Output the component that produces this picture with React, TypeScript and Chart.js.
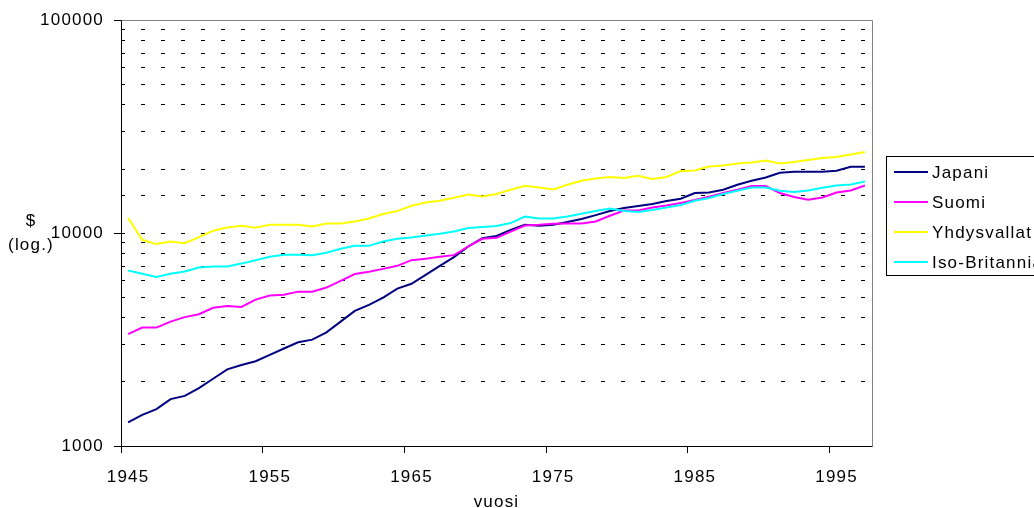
import React, { useEffect, useRef } from "react";
import { Chart, registerables } from "chart.js";

Chart.register(...registerables);

const years = [
  1945, 1946, 1947, 1948, 1949, 1950, 1951, 1952, 1953, 1954,
  1955, 1956, 1957, 1958, 1959, 1960, 1961, 1962, 1963, 1964,
  1965, 1966, 1967, 1968, 1969, 1970, 1971, 1972, 1973, 1974,
  1975, 1976, 1977, 1978, 1979, 1980, 1981, 1982, 1983, 1984,
  1985, 1986, 1987, 1988, 1989, 1990, 1991, 1992, 1993, 1994,
  1995, 1996, 1997,
];

const japani = [
  1290, 1400, 1490, 1660, 1720, 1870, 2070, 2290, 2400, 2500,
  2680, 2870, 3070, 3160, 3420, 3840, 4310, 4600, 4980, 5490,
  5780, 6370, 7020, 7710, 8650, 9470, 9700, 10360, 10940, 10820,
  10940, 11270, 11640, 12150, 12690, 13110, 13400, 13690, 14140, 14500,
  15420, 15520, 15980, 16870, 17620, 18250, 19210, 19420, 19420, 19420,
  19630, 20500, 20500,
];

const suomi = [
  3350, 3600, 3600, 3840, 4030, 4160, 4460, 4550, 4500, 4870,
  5090, 5130, 5310, 5300, 5550, 5970, 6420, 6580, 6790, 7020,
  7460, 7570, 7740, 7880, 8650, 9400, 9500, 10170, 10860, 10940,
  11060, 11100, 11100, 11340, 12060, 12770, 12770, 13200, 13490, 13860,
  14290, 14820, 15420, 15980, 16630, 16630, 15420, 14770, 14340, 14700,
  15520, 15860, 16740,
];

const yhdysvallat = [
  11770, 9300, 8880, 9130, 8970, 9580, 10250, 10620, 10820, 10590,
  10940, 10940, 10940, 10740, 11100, 11100, 11340, 11710, 12290, 12690,
  13440, 13930, 14190, 14660, 15190, 14860, 15260, 15980, 16690, 16390,
  16030, 16870, 17620, 18060, 18340, 18140, 18600, 17940, 18340, 19560,
  19690, 20560, 20780, 21240, 21470, 21940, 21240, 21570, 22040, 22520,
  22770, 23420, 24030,
];

const isoBritannia = [
  6670, 6440, 6230, 6440, 6600, 6890, 6970, 6970, 7190, 7460,
  7740, 7910, 7910, 7880, 8080, 8440, 8710, 8710, 9130, 9400,
  9540, 9740, 9920, 10170, 10560, 10670, 10800, 11150, 11970, 11710,
  11710, 11970, 12320, 12690, 13050, 12690, 12550, 12830, 13200, 13540,
  14190, 14610, 15260, 15810, 16390, 16390, 15810, 15590, 15860, 16330,
  16740, 16920, 17480,
];

const seriesNames = ["Japani", "Suomi", "Yhdysvallat", "Iso-Britannia"];
const seriesColors = ["#000080", "#FF00FF", "#FFFF00", "#00FFFF"];
const yMajorTicks = [1000, 10000, 100000];
const xLabelEvery = 10;
const xTitle = "vuosi";
const yTitle = ["$", "(log.)"];

const FONT = "'Liberation Sans', Arial, sans-serif";
const FONT_SIZE = 17;
const SPACING = "1.2px";

export default function App() {
  const ref = useRef<HTMLCanvasElement>(null);

  useEffect(() => {
    document.body.style.margin = "0";
    const canvas = ref.current!;
    const seriesData = [japani, suomi, yhdysvallat, isoBritannia];

    const decor = {
      id: "decor",
      beforeDraw(chart: any) {
        chart.ctx.letterSpacing = SPACING;
      },
      beforeDatasetsDraw(chart: any) {
        const { ctx, chartArea: a } = chart;
        ctx.save();
        ctx.lineWidth = 1;
        const L = Math.round(a.left) + 0.5;
        const R = Math.round(a.right) + 0.5;
        const T = Math.round(a.top) + 0.5;
        const B = Math.round(a.bottom) + 0.5;
        ctx.strokeStyle = "#808080";
        ctx.beginPath();
        ctx.moveTo(L, T);
        ctx.lineTo(R, T);
        ctx.lineTo(R, B);
        ctx.stroke();
        ctx.strokeStyle = "#000";
        ctx.beginPath();
        ctx.moveTo(L, T);
        ctx.lineTo(L, B);
        ctx.lineTo(R, B);
        ctx.stroke();
        ctx.restore();
      },
      afterDraw(chart: any) {
        const { ctx, chartArea: a } = chart;
        ctx.save();
        ctx.letterSpacing = SPACING;
        ctx.font = `${FONT_SIZE}px ${FONT}`;
        ctx.fillStyle = "#000";
        ctx.textBaseline = "middle";
        ctx.textAlign = "center";
        ctx.fillText(xTitle, (a.left + a.right) / 2, 502);
        ctx.fillText(yTitle[0], 31, 221);
        ctx.fillText(yTitle[1], 31, 245);

        // legend
        const bx = 886.5, by = 156.5, bw = 160, bh = 119;
        ctx.fillStyle = "#fff";
        ctx.fillRect(bx, by, bw, bh);
        ctx.strokeStyle = "#000";
        ctx.lineWidth = 1;
        ctx.strokeRect(bx, by, bw, bh);
        const rows = [172, 202, 232, 262];
        chart.data.datasets.forEach((ds: any, i: number) => {
          const y = rows[i];
          ctx.strokeStyle = ds.borderColor;
          ctx.lineWidth = 2;
          ctx.beginPath();
          ctx.moveTo(894, y);
          ctx.lineTo(928, y);
          ctx.stroke();
          ctx.fillStyle = "#000";
          ctx.textAlign = "left";
          ctx.fillText(ds.label, 932, y + 1);
        });
        ctx.restore();
      },
    };

    const chart = new Chart(canvas, {
      type: "line",
      data: {
        labels: years.map(String),
        datasets: seriesNames.map((name, i) => ({
          label: name,
          data: seriesData[i],
          borderColor: seriesColors[i],
          backgroundColor: seriesColors[i],
          borderWidth: 2,
          pointRadius: 0,
          tension: 0,
          fill: false,
          order: seriesNames.length - i,
        })),
      },
      options: {
        responsive: false,
        animation: false,
        devicePixelRatio: 1,
        layout: { padding: { left: 0, right: 162, top: 20, bottom: 0 } },
        plugins: {
          legend: { display: false },
          tooltip: { enabled: false },
        },
        scales: {
          x: {
            type: "category",
            offset: true,
            grid: {
              offset: true,
              drawOnChartArea: false,
              drawTicks: true,
              tickLength: 7,
              tickWidth: 1,
              tickColor: (c: any) =>
                typeof c.index === "number" && c.index % xLabelEvery === 0 && c.index < years.length
                  ? "#000"
                  : "rgba(0,0,0,0)",
            },
            border: { display: false },
            ticks: {
              autoSkip: false,
              maxRotation: 0,
              minRotation: 0,
              color: "#000",
              padding: 14,
              font: { family: FONT, size: FONT_SIZE },
              callback: (_v: any, idx: number) => (idx % xLabelEvery === 0 ? String(years[idx]) : ""),
            },
            afterFit: (s: any) => {
              s.height = 62;
            },
          },
          y: {
            type: "logarithmic",
            min: 1000,
            max: 100000,
            grid: {
              color: "#000",
              lineWidth: 1,
              drawTicks: true,
              tickLength: 7,
              tickColor: (c: any) =>
                c.tick && yMajorTicks.includes(c.tick.value) ? "#000" : "rgba(0,0,0,0)",
            },
            border: { display: false, dash: [4, 16] },
            ticks: {
              autoSkip: false,
              color: "#000",
              padding: 10,
              font: { family: FONT, size: FONT_SIZE },
              callback: (v: any) => (yMajorTicks.includes(Number(v)) ? String(v) : ""),
            },
            afterFit: (s: any) => {
              s.width = 121;
            },
          },
        },
      },
      plugins: [decor],
    });

    return () => chart.destroy();
  }, []);

  return (
    <div style={{ width: 1034, height: 508, position: "relative", background: "#fff" }}>
      <canvas ref={ref} width={1034} height={508} />
    </div>
  );
}
